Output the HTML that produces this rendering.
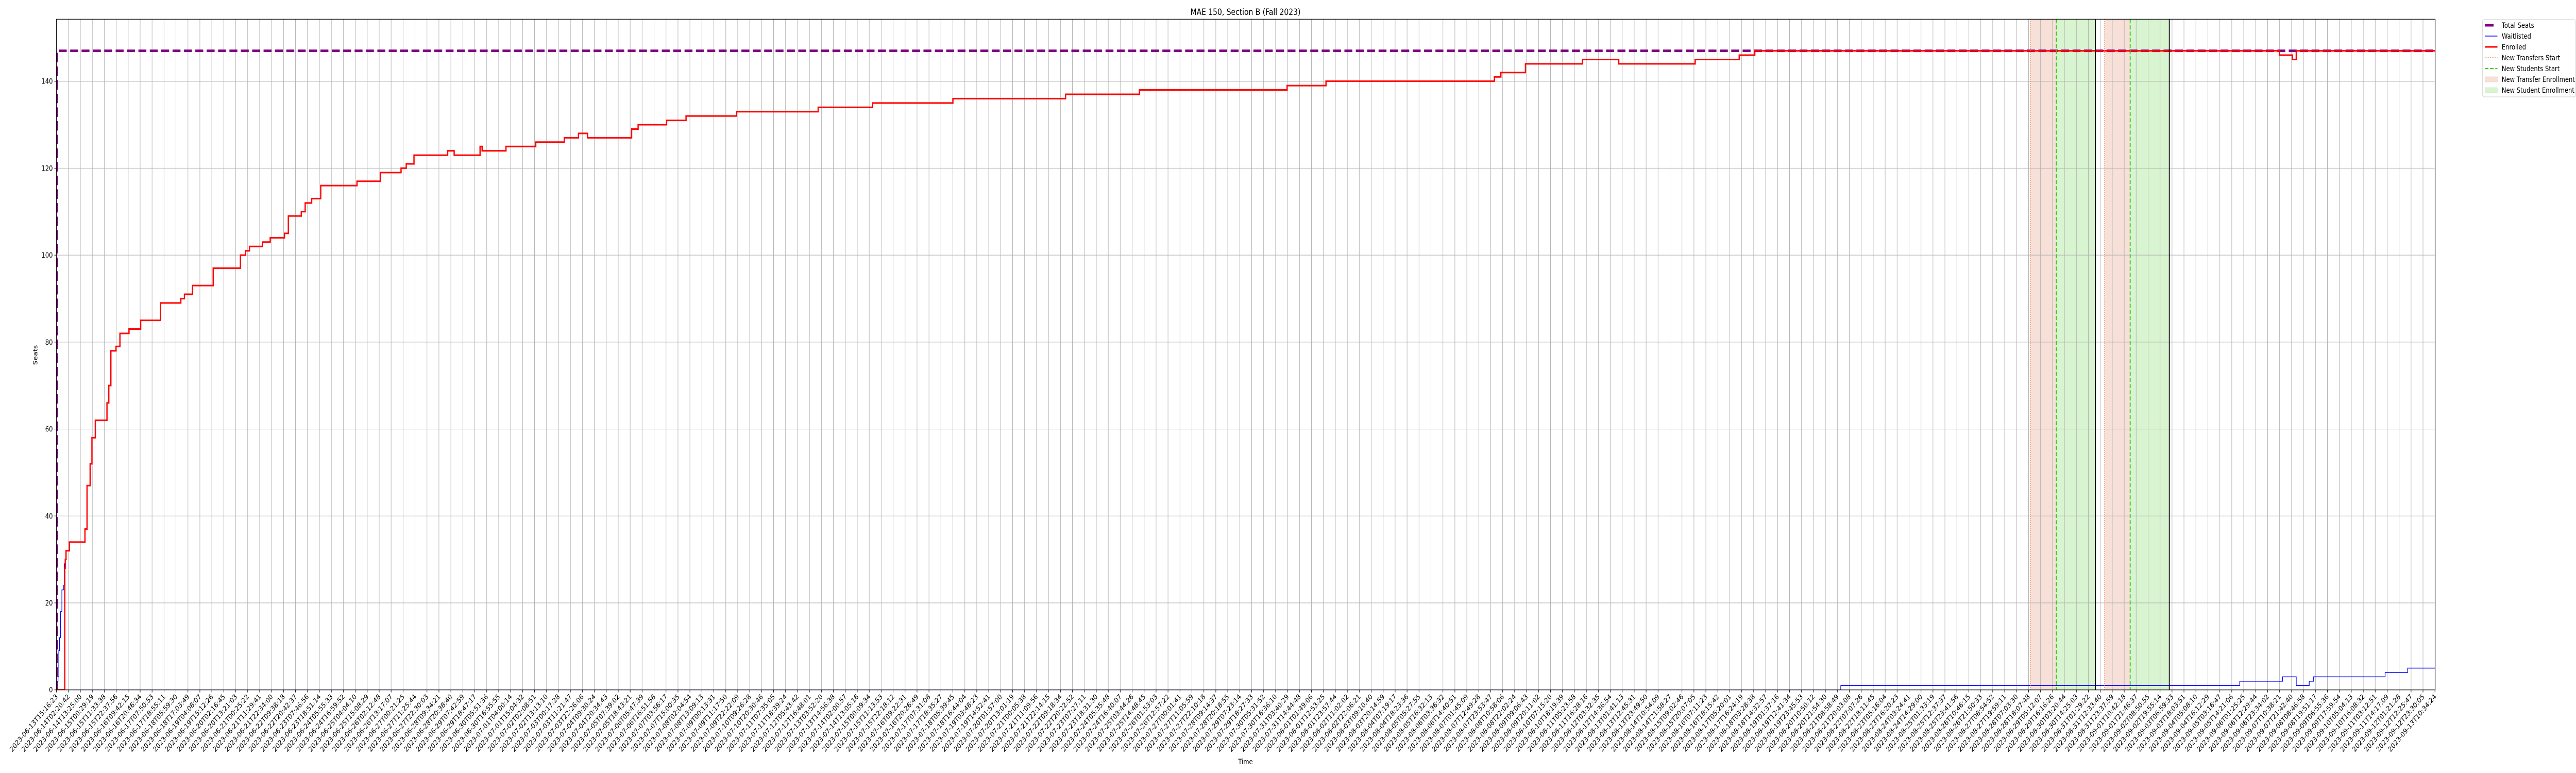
<!DOCTYPE html>
<html><head><meta charset="utf-8"><style>
html,body{margin:0;padding:0;background:#fff;width:100vw;height:100vh;overflow:hidden;}
svg{display:block;font-family:"DejaVu Sans","Liberation Sans",sans-serif;overflow:hidden;width:100vw;height:100vh;}
</style></head><body>
<svg id="chart" viewBox="0 0 6000 1500" preserveAspectRatio="none" xmlns="http://www.w3.org/2000/svg">
<defs><clipPath id="plotclip"><rect x="131.5" y="37.3" width="5540.5" height="1301.4"/></clipPath></defs>
<rect x="0" y="0" width="6000" height="1500" fill="#fff"/>
<g id="spans" clip-path="url(#plotclip)"></g>
<g id="grid"></g>
<g id="series" clip-path="url(#plotclip)"></g>
<rect x="131.5" y="37.3" width="5540.5" height="1301.4" fill="none" stroke="#000" stroke-width="1.2"/>
<g id="xaxis"></g>
<g id="yaxis"></g>
<text x="2901" y="29" font-size="16.7" text-anchor="middle">MAE 150, Section B (Fall 2023)</text>
<text x="2901" y="1483" font-size="13.9" text-anchor="middle">Time</text>
<text x="0" y="0" font-size="13.9" text-anchor="middle" transform="translate(87,689) rotate(-90)">Seats</text>
<g id="legend">
  <rect x="5782.5" y="38" width="216" height="150" rx="3" fill="#fff" fill-opacity="0.8" stroke="#cccccc" stroke-width="1"/>
  <g>
    <line x1="5788" y1="49" x2="5808" y2="49" stroke="#800080" stroke-width="5"/>
    <text x="5827" y="54" font-size="13.9">Total Seats</text></g>
  <g>
    <line x1="5788" y1="70" x2="5817" y2="70" stroke="#0000ff" stroke-width="1.5"/>
    <text x="5827" y="75" font-size="13.9">Waitlisted</text></g>
  <g>
    <line x1="5788" y1="91" x2="5817" y2="91" stroke="#ff0000" stroke-width="3"/>
    <text x="5827" y="96" font-size="13.9">Enrolled</text></g>
  <g>
    <line x1="5788" y1="112" x2="5817" y2="112" stroke="#f0682a" stroke-width="1.5" stroke-dasharray="1.5,2.5"/>
    <text x="5827" y="117" font-size="13.9">New Transfers Start</text></g>
  <g>
    <line x1="5788" y1="133" x2="5817" y2="133" stroke="#33cc11" stroke-width="2.2" stroke-dasharray="8,4"/>
    <text x="5827" y="138" font-size="13.9">New Students Start</text></g>
  <g>
    <rect x="5788" y="149" width="29" height="10" fill="#f6e0d7" stroke="#f3d3c5" stroke-width="0.8"/>
    <text x="5827" y="159" font-size="13.9">New Transfer Enrollment</text></g>
  <g>
    <rect x="5788" y="170" width="29" height="10" fill="#d8f4d0" stroke="#c9efbf" stroke-width="0.8"/>
    <text x="5827" y="180" font-size="13.9">New Student Enrollment</text></g>
</g>
</svg>
<script>
// ---- data (x in days since 2023-06-13T15:16:23) ----
const totalDays = 91.804;
const enrolledT = [0,0.32,0.34,0.37,0.5,1.1,1.18,1.3,1.37,1.5,1.95,2.02,2.1,2.3,2.45,2.8,3.25,4.02,4.8,4.94,5.25,6.05,7.1,7.3,7.45,7.95,8.25,8.8,8.95,9.45,9.6,9.85,10.2,11.6,12.5,13.3,13.5,13.8,15.1,15.35,16.35,16.43,17.35,18.5,19.6,20.15,20.5,22.2,22.45,23.55,24.3,26.25,29.4,31.5,34.6,38.95,41.8,47.5,49.0,55.5,55.75,56.7,58.9,60.3,63.25,64.95,65.55,85.8,86.3,86.45,91.804];
const enrolledV = [0,28,30,32,34,37,47,52,58,62,66,70,78,79,82,83,85,89,90,91,93,97,100,101,102,103,104,105,109,110,112,113,116,117,119,120,121,123,124,123,125,124,125,126,127,128,127,129,130,131,132,133,134,135,136,137,138,139,140,141,142,144,145,144,145,146,147,146,145,147,147];
const waitT = [0,0.01,0.06,0.09,0.12,0.16,0.21,0.27,0.3,0.32,68.87,84.27,85.92,86.45,86.95,87.12,89.88,90.75,91.804];
const waitV = [0,2,3,9,12,18,23,24,29,0,1,2,3,1,2,3,4,5,5];
const seatsT = [0,0.02,91.804];
const seatsV = [0,147,147];
const transferStart = [76.19,79.05];
const studentStart = [77.19,80.04];
const enrollEnd = [78.70,81.55];
const yTicks = [0,20,40,60,80,100,120,140];
const startMs = Date.UTC(2023,5,13,15,16,23);
const endMs = Date.UTC(2023,8,13,10,34,24);
const tickCount = 200;
const tickLabels = [];
for (let i = 0; i < tickCount; i++) {
  const ms = startMs + Math.round((endMs - startMs) * i / (tickCount - 1) / 1000) * 1000;
  tickLabels.push(new Date(ms).toISOString().slice(0,19));
}

// ---- scales ----
const X0 = 131.5, X1 = 5671.5, Y0 = 1338.7, PXU = 8.436;
function xs(d){ return X0 + d / totalDays * (X1 - X0); }
function ys(v){ return Y0 - v * PXU; }
const NS = "http://www.w3.org/2000/svg";
function mk(tag, attrs, parent){
  const e = document.createElementNS(NS, tag);
  for (const k in attrs) e.setAttribute(k, attrs[k]);
  parent.appendChild(e); return e;
}
function stepPath(T, V){
  let d = "M" + xs(T[0]).toFixed(2) + "," + ys(V[0]).toFixed(2);
  for (let i = 1; i < T.length; i++){
    d += " H" + xs(T[i]).toFixed(2) + " V" + ys(V[i]).toFixed(2);
  }
  return d;
}

// spans
const spans = document.getElementById("spans");
for (let i = 0; i < transferStart.length; i++){
  const r1 = mk("rect", {x: xs(transferStart[i]), y: 37.3, width: xs(studentStart[i]) - xs(transferStart[i]), height: 1301.4, fill: "#f6e0d7"}, spans);
  
  
  const r2 = mk("rect", {x: xs(studentStart[i]), y: 37.3, width: xs(enrollEnd[i]) - xs(studentStart[i]), height: 1301.4, fill: "#d8f4d0"}, spans);
  
  
}

// grid + axes
const grid = document.getElementById("grid");
const xaxis = document.getElementById("xaxis");
const yaxis = document.getElementById("yaxis");
for (let i = 0; i < tickCount; i++){
  const x = X0 + (X1 - X0) * i / (tickCount - 1);
  const gl = mk("line", {x1: x, y1: 37.3, x2: x, y2: Y0, stroke: "#b0b0b0", "stroke-width": 1.1}, grid);
  
  
  const tk = mk("line", {x1: x, y1: Y0, x2: x, y2: Y0 + 4.9, stroke: "#000", "stroke-width": 1.1}, xaxis);
  
  
  const t = mk("text", {x: 0, y: 0, "font-size": 13.9, "text-anchor": "end", transform: "translate(" + (x + 4) + "," + (Y0 + 14) + ") rotate(-45)"}, xaxis);
  t.textContent = tickLabels[i];
  
  
}
for (const v of yTicks){
  const y = ys(v);
  const gl = mk("line", {x1: X0, y1: y, x2: 5672, y2: y, stroke: "#b0b0b0", "stroke-width": 1.1}, grid);
  
  
  const tk = mk("line", {x1: X0 - 4.9, y1: y, x2: X0, y2: y, stroke: "#000", "stroke-width": 1.1}, yaxis);
  
  
  const t = mk("text", {x: X0 - 8.5, y: y + 5, "font-size": 13.9, "text-anchor": "end"}, yaxis);
  t.textContent = String(v);
  
  
}

// series
const series = document.getElementById("series");
const pSeats = mk("path", {d: stepPath(seatsT, seatsV), fill: "none", stroke: "#800080", "stroke-width": 5, "stroke-dasharray": "18.5,8"}, series);


const pWait = mk("path", {d: stepPath(waitT, waitV), fill: "none", stroke: "#0000ff", "stroke-width": 1.5}, series);


const pEnr = mk("path", {d: stepPath(enrolledT, enrolledV), fill: "none", stroke: "#ff0000", "stroke-width": 3}, series);


for (let i = 0; i < transferStart.length; i++){
  const a = mk("line", {x1: xs(transferStart[i]), y1: 37.3, x2: xs(transferStart[i]), y2: Y0, stroke: "#f0682a", "stroke-width": 1.5, "stroke-dasharray": "1.5,2.5"}, series);
  
  
  const b = mk("line", {x1: xs(studentStart[i]), y1: 37.3, x2: xs(studentStart[i]), y2: Y0, stroke: "#33cc11", "stroke-width": 2.2, "stroke-dasharray": "8,4"}, series);
  
  
  const c = mk("line", {x1: xs(enrollEnd[i]), y1: 37.3, x2: xs(enrollEnd[i]), y2: Y0, stroke: "#000", "stroke-width": 2}, series);
  
  
}
</script>
</body></html>
